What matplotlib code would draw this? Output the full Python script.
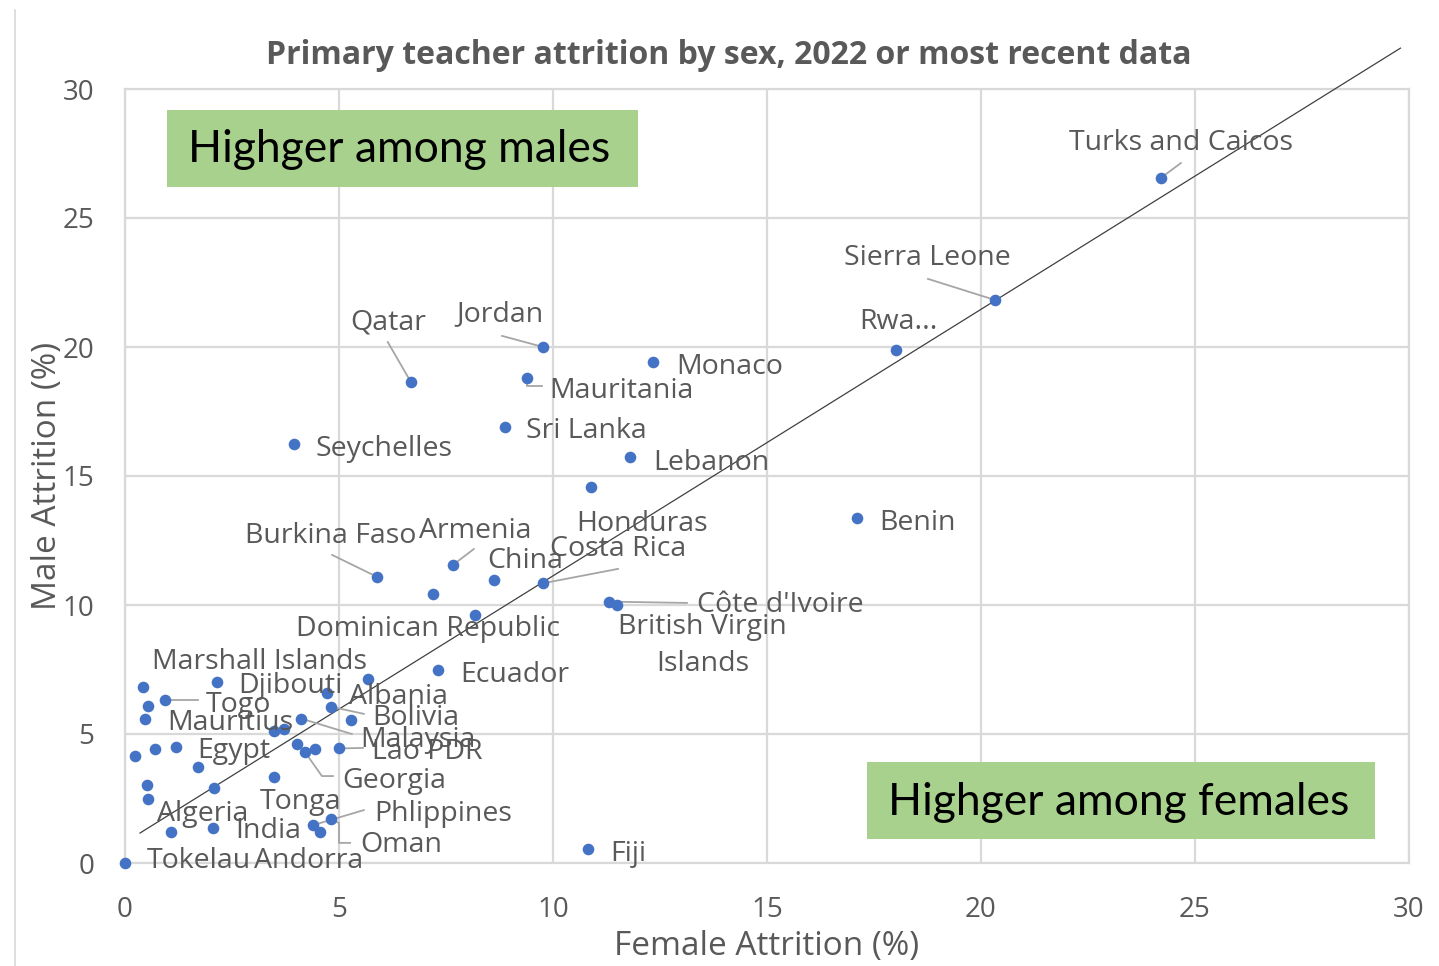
import numpy as np
import matplotlib
matplotlib.use("Agg")
import matplotlib.pyplot as plt
import matplotlib.transforms as mtransforms
from matplotlib.patches import Rectangle
from matplotlib.lines import Line2D

# datos (Female %, Male %)
countries = ["Turks and Caicos", "Sierra Leone", "Rwa...", "Monaco", "Jordan",
             "Mauritania", "Qatar", "Sri Lanka", "Seychelles", "Lebanon",
             "Honduras", "Benin", "Burkina Faso", "Armenia", "China",
             "Costa Rica", "", "Dominican Republic", "Côte d'Ivoire",
             "British Virgin\nIslands", "Ecuador", "Marshall Islands", "Djibouti",
             "Albania", "Togo", "Mauritius", "Bolivia", "Malaysia", "Lao PDR",
             "Egypt", "Georgia", "Tonga", "Algeria", "India", "Phlippines",
             "Oman", "Tokelau", "Andorra", "Fiji",
             "", "", "", "", "", "", "", "", "", "", "", "", ""]
female = [24.20, 20.33, 18.01, 12.34, 9.77,
          9.39, 6.68, 8.88, 3.95, 11.80,
          10.89, 17.10, 5.89, 7.66, 8.62,
          9.76, 7.20, 8.18, 11.32,
          11.49, 7.32, 5.67, 2.14,
          4.73, 0.93, 0.47, 4.81, 4.11, 5.00,
          1.18, 4.21, 3.49, 2.08, 2.06, 4.40,
          4.81, 0.00, 1.07, 10.82,
          0.41, 0.53, 3.48, 3.71, 0.23, 0.70, 4.01, 4.44, 1.71, 0.52, 0.53, 4.56, 5.27]
male = [26.55, 21.82, 19.88, 19.42, 20.00,
        18.80, 18.64, 16.90, 16.24, 15.74,
        14.57, 13.37, 11.09, 11.55, 10.97,
        10.84, 10.43, 9.61, 10.13,
        10.00, 7.48, 7.13, 7.00,
        6.60, 6.32, 5.57, 6.06, 5.60, 4.44,
        4.49, 4.29, 3.34, 2.89, 1.37, 1.47,
        1.70, 0.00, 1.21, 0.54,
        6.81, 6.10, 5.13, 5.18, 4.16, 4.42, 4.60, 4.40, 3.73, 3.01, 2.48, 1.21, 5.54]

# linea de tendencia
trend_slope = 1.033
trend_intercept = 0.80
trend_x = [0.35, 29.8]

# posicion de las etiquetas: (x, y, alineacion, linea guia)
etiquetas = {
    "Turks and Caicos": (24.67, 28.02, "center", [(24.67, 27.13)]),
    "Sierra Leone": (18.74, 23.53, "center", [(18.76, 22.64)]),
    "Rwa...": (18.08, 21.05, "center", None),
    "Monaco": (12.87, 19.34, "left", None),
    "Jordan": (8.76, 21.36, "center", [(8.81, 20.43)]),
    "Mauritania": (9.91, 18.41, "left", [(9.39, 18.5), (9.75, 18.5)]),
    "Qatar": (6.14, 21.05, "center", [(6.14, 20.19)]),
    "Sri Lanka": (9.37, 16.86, "left", None),
    "Seychelles": (4.46, 16.16, "left", None),
    "Lebanon": (12.34, 15.62, "left", None),
    "Honduras": (12.08, 13.22, "center", None),
    "Benin": (17.62, 13.29, "left", None),
    "Burkina Faso": (4.81, 12.79, "center", [(4.84, 11.94)]),
    "Armenia": (8.18, 12.98, "center", [(8.15, 12.17)]),
    "China": (9.35, 11.82, "center", None),
    "Costa Rica": (11.52, 12.25, "center", [(11.52, 11.40)]),
    "Dominican Republic": (7.08, 9.15, "center", None),
    "Côte d'Ivoire": (13.36, 10.08, "left", [(13.13, 10.08)]),
    "British Virgin\nIslands": (13.5, 8.53, "center", None),
    "Ecuador": (7.83, 7.40, "left", None),
    "Marshall Islands": (3.15, 7.87, "center", None),
    "Djibouti": (2.64, 6.94, "left", None),
    "Albania": (5.23, 6.55, "left", None),
    "Togo": (2.66, 6.24, "center", [(1.71, 6.32)]),
    "Mauritius": (0.98, 5.54, "left", None),
    "Bolivia": (5.77, 5.70, "left", [(5.58, 5.78)]),
    "Malaysia": (5.49, 4.88, "left", [(5.30, 5.00)]),
    "Lao PDR": (5.77, 4.38, "left", [(5.56, 4.46)]),
    "Egypt": (1.68, 4.42, "left", None),
    "Georgia": (5.07, 3.29, "left", [(4.60, 3.37), (4.86, 3.37)]),
    "Tonga": (4.11, 2.48, "center", None),
    "Algeria": (1.82, 1.98, "center", None),
    "India": (2.57, 1.32, "left", None),
    "Phlippines": (5.82, 1.98, "left", [(5.58, 2.05)]),
    "Oman": (5.49, 0.78, "left", [(5.0, 1.55), (5.0, 0.78), (5.26, 0.78)]),
    "Tokelau": (0.51, 0.16, "left", None),
    "Andorra": (3.01, 0.16, "left", None),
    "Fiji": (11.33, 0.43, "left", None),
}

plt.rcParams['font.family'] = ['Open Sans', 'DejaVu Sans']
gris_texto = '#595959'
gris_grilla = '#D9D9D9'

fig = plt.figure(figsize=(14.39, 9.66), dpi=100)
ax = fig.add_axes([125/1439, 103/966, 1284/1439, 774/966])

ax.set_xlim(0, 30)
ax.set_ylim(0, 30)
ax.set_xticks(np.arange(0, 31, 5))
ax.set_yticks(np.arange(0, 31, 5))
ax.grid(True, color=gris_grilla, linewidth=1.6, zorder=0)
ax.set_axisbelow(True)
for s in ax.spines.values():
    s.set_color(gris_grilla)
    s.set_linewidth(1.6)
ax.tick_params(length=0, labelsize=20, labelcolor=gris_texto)
ax.tick_params(axis='x', pad=24)
ax.tick_params(axis='y', pad=22)

# cajas verdes
ax.add_patch(Rectangle((0.98, 26.2), 11.01, 2.99, facecolor='#A9D18E', edgecolor='none', zorder=2))
ax.text(1.47, 27.67, "Highger among males", fontsize=32, family=['Lato', 'DejaVu Sans'],
        color='black', va='center', ha='left', zorder=3)
ax.add_patch(Rectangle((17.34, 0.93), 11.87, 2.98, facecolor='#A9D18E', edgecolor='none', zorder=2))
ax.text(17.83, 2.36, "Highger among females", fontsize=32, family=['Lato', 'DejaVu Sans'],
        color='black', va='center', ha='left', zorder=3)

# linea de tendencia
tx = np.array(trend_x)
ax.plot(tx, trend_slope*tx + trend_intercept, color='#404040', linewidth=0.9, zorder=3, clip_on=False)

ax.scatter(female, male, s=70, color='#4472C4', zorder=4, clip_on=False, linewidths=0)

# etiquetas (un poco mas abajo para centrar como en excel)
trans_etiq = mtransforms.offset_copy(ax.transData, fig=fig, x=0, y=-2.5, units='dots')
for nombre, fx, my in zip(countries, female, male):
    if nombre == "" or nombre not in etiquetas:
        continue
    lx, ly, ha, guia = etiquetas[nombre]
    ax.text(lx, ly, nombre, fontsize=20.5, color=gris_texto, ha=ha, va='center',
            zorder=5, linespacing=1.45, transform=trans_etiq)
    if guia:
        xs = [fx] + [p[0] for p in guia]
        ys = [my] + [p[1] for p in guia]
        ax.plot(xs, ys, color='#A6A6A6', linewidth=1.3, zorder=3)

ax.set_xlabel("Female Attrition (%)", fontsize=24, color=gris_texto, labelpad=4)
ax.set_ylabel("Male Attrition (%)", fontsize=24, color=gris_texto, labelpad=-1)

fig.text(729/1439, 1 - 55/966, "Primary teacher attrition by sex, 2022 or most recent data",
         fontsize=23, fontweight='bold', color=gris_texto, ha='center', va='center')

# borde izquierdo del area del grafico
fig.add_artist(Line2D([15/1439, 15/1439], [0, 1 - 10/966], color=gris_grilla, linewidth=1.2))

plt.savefig('out.png', dpi=100)
